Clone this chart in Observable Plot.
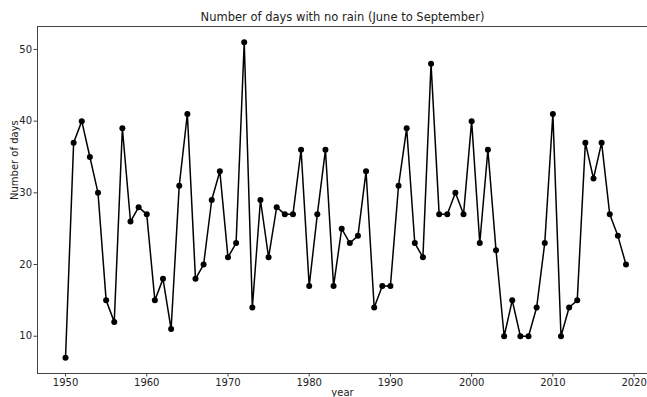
<!DOCTYPE html>
<html>
<head>
<meta charset="utf-8">
<script src="https://cdn.jsdelivr.net/npm/d3@7"></script>
<script src="https://cdn.jsdelivr.net/npm/@observablehq/plot@0.6"></script>
<style>
  html, body { margin: 0; padding: 0; background: white; }
</style>
</head>
<body>
<div id="chart"></div>
<script>
const years = d3.range(1950, 2020);
const days = [
  7, 37, 40, 35, 30, 15, 12, 39, 26, 28,
  27, 15, 18, 11, 31, 41, 18, 20, 29, 33,
  21, 23, 51, 14, 29, 21, 28, 27, 27, 36,
  17, 27, 36, 17, 25, 23, 24, 33, 14, 17,
  17, 31, 39, 23, 21, 48, 27, 27, 30, 27,
  40, 23, 36, 22, 10, 15, 10, 10, 14, 23,
  41, 10, 14, 15, 37, 32, 37, 27, 24, 20
];
const xTicks = [1950, 1960, 1970, 1980, 1990, 2000, 2010, 2020];
const yTicks = [10, 20, 30, 40, 50];
const title = "Number of days with no rain (June to September)";
const xLabel = "year";
const yLabel = "Number of days";

const data = years.map((year, i) => ({year, days: days[i]}));
const xDomain = [1946.55, 2021.65];
const yDomain = [4.8, 53.2];
const ink = "#222";
const spine = "#444";

const chart = Plot.plot({
  width: 647,
  height: 397,
  marginTop: 26,
  marginBottom: 24,
  marginLeft: 37,
  marginRight: 0,
  style: {fontFamily: "DejaVu Sans, sans-serif", fontSize: "10px", color: ink, background: "white"},
  x: {domain: xDomain, label: null},
  y: {domain: yDomain, label: null},
  marks: [
    Plot.axisX({ticks: xTicks, tickFormat: d => String(d), tickSize: 3.5, tickPadding: 2, label: null, stroke: spine, fill: ink}),
    Plot.axisY({ticks: yTicks, tickSize: 3.5, tickPadding: 2, label: null, stroke: spine, fill: ink}),
    Plot.ruleY([yDomain[0]], {stroke: spine, strokeWidth: 1}),
    Plot.ruleY([yDomain[1]], {stroke: spine, strokeWidth: 1}),
    Plot.ruleX([xDomain[0]], {stroke: spine, strokeWidth: 1}),
    Plot.line(data, {x: "year", y: "days", stroke: "black", strokeWidth: 1.5}),
    Plot.dot(data, {x: "year", y: "days", r: 3, fill: "black", stroke: null}),
    Plot.text([title], {frameAnchor: "top", dy: -6, fontSize: 11.5, fill: ink, lineAnchor: "bottom"}),
    Plot.text([xLabel], {frameAnchor: "bottom", dy: 22, fontSize: 10, fill: ink}),
    Plot.text([yLabel], {frameAnchor: "left", dx: -23, rotate: -90, fontSize: 10, fill: ink})
  ]
});
document.getElementById("chart").appendChild(chart);
</script>
</body>
</html>
